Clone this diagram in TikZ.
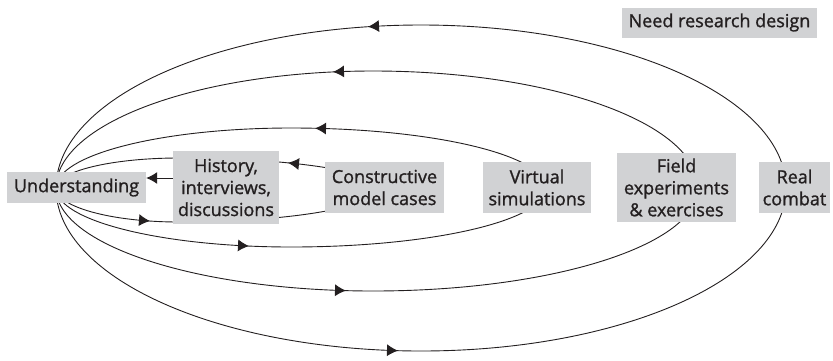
\documentclass[tikz,border=0pt]{standalone}
\usepackage{fontspec}
\setmainfont{Open Sans}[FakeBold=1.2]
\usetikzlibrary{arrows.meta,backgrounds}
\definecolor{boxgray}{RGB}{209,210,212}
\definecolor{ink}{RGB}{35,31,32}
\begin{document}
\begin{tikzpicture}[x=1pt,y=-1pt,
  box/.style={fill=boxgray, inner sep=0pt, align=center, text=ink,
    font=\fontsize{18}{22}\selectfont},
  loopline/.style={draw=ink, line width=0.9pt},
  tipline/.style={-{Latex[length=11pt,width=12pt]}, draw=ink, line width=0.9pt}]
\useasboundingbox (0,0) rectangle (833,360);
% boxes
\node[box, minimum width=139pt, minimum height=31pt] (und) at (76.5,187.5) {Understanding};
\node[box, minimum width=106pt, minimum height=73pt] (hist) at (226,187.5) {History,\\interviews,\\discussions};
\node[box, minimum width=119pt, minimum height=51pt] (cons) at (384.5,187.5) {Constructive\\model cases};
\node[box, minimum width=108pt, minimum height=51pt] (virt) at (537,187.5) {Virtual\\simulations};
\node[box, minimum width=119pt, minimum height=69pt] (field) at (676.5,187.5) {Field\\experiments\\\& exercises};
\node[box, minimum width=71pt, minimum height=51pt] (real) at (794.5,187.5) {Real\\combat};
\node[box, minimum width=195pt, minimum height=30pt] (need) at (719.5,22.5) {Need research design};
% arrow history -> understanding
\draw[tipline] ([yshift=9.5pt]hist.west) -- ([yshift=9.5pt]und.east);
\begin{scope}[on background layer]
% loop 1: constructive
\draw[loopline] (56,188) .. controls (56,171.43) and (111.07,158) .. (179,158)
  .. controls (289.46,158) and (379,171.43) .. (379,188)
  .. controls (379,206.78) and (289.46,222) .. (179,222)
  .. controls (111.07,222) and (56,206.78) .. (56,188);
% loop 2: virtual
\draw[loopline] (56,188) .. controls (56,154.86) and (161.21,128) .. (291,128)
  .. controls (431.84,128) and (546,154.86) .. (546,188)
  .. controls (546,220.59) and (431.84,247) .. (291,247)
  .. controls (161.21,247) and (56,220.59) .. (56,188);
% loop 3: field
\draw[loopline] (56,188) .. controls (56,123.38) and (197.92,71) .. (373,71)
  .. controls (552.5,71) and (698,123.38) .. (698,188)
  .. controls (698,244.89) and (552.5,291) .. (373,291)
  .. controls (197.92,291) and (56,244.89) .. (56,188);
% loop 4: real combat
\draw[loopline] (56,188) .. controls (56,97.98) and (219.41,25) .. (421,25)
  .. controls (622.59,25) and (786,97.98) .. (786,188)
  .. controls (786,278.02) and (622.59,351) .. (421,351)
  .. controls (219.41,351) and (56,278.02) .. (56,188);
\end{scope}
% arrowheads on loops
\draw[tipline] (298,163.9) -- (288,162.85);
\draw[tipline] (140,220.2) -- (150,221.0);
\draw[tipline] (325,128.5) -- (315,128.3);
\draw[tipline] (239,245.5) -- (249,246.05);
\draw[tipline] (343,71.5) -- (333,71.9);
\draw[tipline] (336,290.3) -- (346,290.6);
\draw[tipline] (378,26.1) -- (368,26.7);
\draw[tipline] (388,350.3) -- (398,350.7);
\end{tikzpicture}
\end{document}
